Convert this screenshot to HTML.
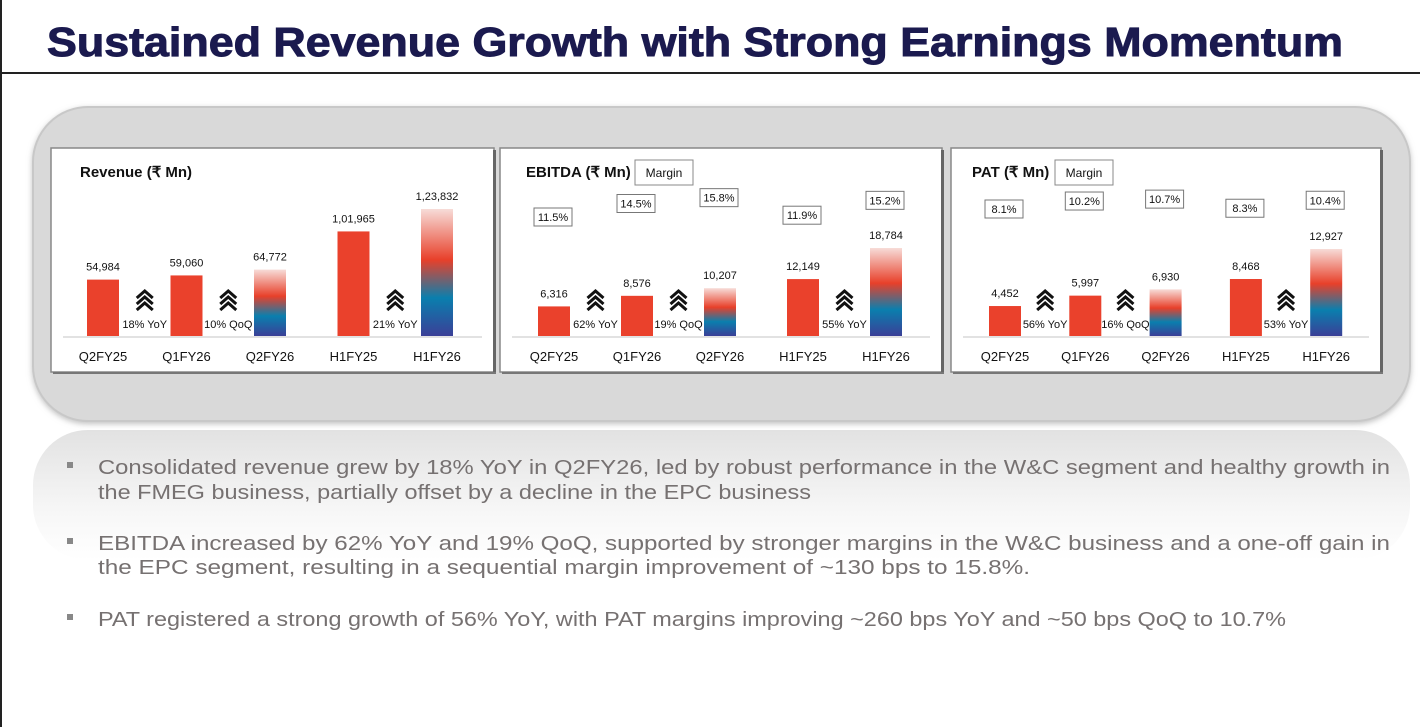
<!DOCTYPE html>
<html><head><meta charset="utf-8"><style>
html,body{margin:0;padding:0;background:#fff;width:1420px;height:727px;overflow:hidden}
svg{display:block}
</style></head><body>
<svg id="s" width="1420" height="727" xmlns="http://www.w3.org/2000/svg">
<defs>
<linearGradient id="gb" x1="0" y1="0" x2="0" y2="1">
<stop offset="0" stop-color="#f7dcd8"/><stop offset="0.4" stop-color="#e8402a"/><stop offset="0.7" stop-color="#0a7fae"/><stop offset="1" stop-color="#3b3f97"/>
</linearGradient>
<linearGradient id="gl" x1="0" y1="0" x2="0" y2="1">
<stop offset="0" stop-color="#e2e2e2"/><stop offset="0.6" stop-color="#f6f6f6"/><stop offset="1" stop-color="#ffffff"/>
</linearGradient>
<filter id="sh" x="-5%" y="-10%" width="110%" height="120%"><feDropShadow dx="0" dy="2" stdDeviation="3" flood-color="#999" flood-opacity="0.6"/></filter>
</defs>
<rect x="0" y="0" width="2" height="727" fill="#222"/>
<rect x="0" y="72" width="1420" height="2" fill="#222"/>
<text x="47" y="56" font-family="Liberation Sans, sans-serif" font-weight="bold" font-size="41" fill="#1b1a4f" stroke="#1b1a4f" stroke-width="1" textLength="1296" lengthAdjust="spacingAndGlyphs">Sustained Revenue Growth with Strong Earnings Momentum</text>
<rect x="33" y="107" width="1377" height="314" rx="55" fill="#d9d9d9" stroke="#c8c8c8" stroke-width="2" filter="url(#sh)"/>
<rect x="33" y="430" width="1377" height="130" rx="55" fill="url(#gl)"/>
<g id="charts"></g>
<g font-family="Liberation Sans, sans-serif" font-size="20" fill="#767171">
<rect x="67" y="462" width="6" height="6" fill="#888"/>
<text x="98" y="474" textLength="1292" lengthAdjust="spacingAndGlyphs">Consolidated revenue grew by 18% YoY in Q2FY26, led by robust performance in the W&amp;C segment and healthy growth in</text>
<text x="98" y="499" textLength="713" lengthAdjust="spacingAndGlyphs">the FMEG business, partially offset by a decline in the EPC business</text>
<rect x="67" y="538" width="6" height="6" fill="#888"/>
<text x="98" y="550" textLength="1292" lengthAdjust="spacingAndGlyphs">EBITDA increased by 62% YoY and 19% QoQ, supported by stronger margins in the W&amp;C business and a one-off gain in</text>
<text x="98" y="574" textLength="932" lengthAdjust="spacingAndGlyphs">the EPC segment, resulting in a sequential margin improvement of ~130 bps to 15.8%.</text>
<rect x="67" y="614" width="6" height="6" fill="#888"/>
<text x="98" y="626" textLength="1188" lengthAdjust="spacingAndGlyphs">PAT registered a strong growth of 56% YoY, with PAT margins improving ~260 bps YoY and ~50 bps QoQ to 10.7%</text>
</g>
</svg>
<script>
const categories = ["Q2FY25","Q1FY26","Q2FY26","H1FY25","H1FY26"];
const revenueValues = [54984, 59060, 64772, 101965, 123832];
const revenueLabels = ["54,984","59,060","64,772","1,01,965","1,23,832"];
const ebitdaValues = [6316, 8576, 10207, 12149, 18784];
const ebitdaLabels = ["6,316","8,576","10,207","12,149","18,784"];
const ebitdaMargins = [11.5, 14.5, 15.8, 11.9, 15.2];
const patValues = [4452, 5997, 6930, 8468, 12927];
const patLabels = ["4,452","5,997","6,930","8,468","12,927"];
const patMargins = [8.1, 10.2, 10.7, 8.3, 10.4];
const revenueGrowth = ["18% YoY","10% QoQ","21% YoY"];
const ebitdaGrowth = ["62% YoY","19% QoQ","55% YoY"];
const patGrowth = ["56% YoY","16% QoQ","53% YoY"];

const NS="http://www.w3.org/2000/svg";
const root=document.getElementById('charts');
function el(tag,attrs,parent){const e=document.createElementNS(NS,tag);for(const k in attrs)e.setAttribute(k,attrs[k]);(parent||root).appendChild(e);return e;}
function txt(s,attrs,parent){const e=el('text',attrs,parent);e.textContent=s;return e;}
const F="Liberation Sans, sans-serif";

function chart(cfg){
  const g=el('g',{});
  
  
  const p=el('rect',{x:cfg.px,y:148,width:cfg.pw,height:224,fill:'#fff',stroke:'#888','stroke-width':1.5},g);
  
  
  el('rect',{x:cfg.px+cfg.pw-1,y:150,width:3,height:224,fill:'#666'},g);
  el('rect',{x:cfg.px+2,y:372,width:cfg.pw,height:2,fill:'#777'},g);
  const t=txt(cfg.title,{x:cfg.tx,y:177,'font-family':F,'font-weight':'bold','font-size':15,fill:'#111'},g);
  
  
  if(cfg.margins){
    el('rect',{x:cfg.mx,y:160,width:58,height:25,fill:'#fff',stroke:'#888','stroke-width':1},g);
    const ml=txt('Margin',{x:cfg.mx+29,y:177,'text-anchor':'middle','font-family':F,'font-size':12,fill:'#111'},g);
    
    
  }
  const base=336;
  const xs=i=>cfg.x0+i*cfg.step;
  const ys=v=>base-v*cfg.k;
  el('line',{x1:cfg.px+12,y1:base+1,x2:cfg.px+cfg.pw-12,y2:base+1,stroke:'#d9d9d9','stroke-width':1.5},g);
  cfg.values.forEach((v,i)=>{
    const cx=xs(i), top=ys(v);
    const b=el('rect',{x:cx-16,y:top,width:32,height:base-top,fill:(i==2||i==4)?'url(#gb)':'#ea412c'},g);
    
    
    const vl=txt(cfg.labels[i],{x:cx,y:top-9,'text-anchor':'middle','font-family':F,'font-size':11,fill:'#111'},g);
    
    
    const xl=txt(categories[i],{x:cx,y:361,'text-anchor':'middle','font-family':F,'font-size':13,fill:'#111'},g);
    
    
    if(cfg.margins){
      const m=cfg.margins[i];
      const my=cfg.my0-(m-cfg.m0)*cfg.mk;
      el('rect',{x:cx-20,y:my-9,width:38,height:18,fill:'#fff',stroke:'#777','stroke-width':1},g);
      const mt=txt(m.toFixed(1)+'%',{x:cx-1,y:my+4,'text-anchor':'middle','font-family':F,'font-size':11,fill:'#111'},g);
      
      
    }
  });
  [[0,1],[1,2],[3,4]].forEach((pr,j)=>{
    const cx=(xs(pr[0])+xs(pr[1]))/2;
    for(let c=0;c<3;c++){
      el('polyline',{points:`${cx-8},${298+c*6} ${cx},${291+c*6} ${cx+8},${298+c*6}`,fill:'none',stroke:'#111','stroke-width':3},g);
    }
    const gt=txt(cfg.growth[j],{x:cx,y:328,'text-anchor':'middle','font-family':F,'font-size':11,fill:'#111'},g);
    
    
  });
}
chart({name:'revenue-chart',title:'Revenue (₹ Mn)',px:51,pw:443,tx:80,x0:103,step:83.5,k:127/123832,values:revenueValues,labels:revenueLabels,growth:revenueGrowth});
chart({name:'ebitda-chart',title:'EBITDA (₹ Mn)',px:500,pw:442,tx:526,mx:635,x0:554,step:83,k:88/18784,values:ebitdaValues,labels:ebitdaLabels,growth:ebitdaGrowth,margins:ebitdaMargins,my0:217,m0:11.5,mk:4.5});
chart({name:'pat-chart',title:'PAT (₹ Mn)',px:951,pw:430,tx:972,mx:1055,x0:1005,step:80.3,k:87/12927,values:patValues,labels:patLabels,growth:patGrowth,margins:patMargins,my0:209,m0:8.1,mk:3.8});
</script>
</body></html>
